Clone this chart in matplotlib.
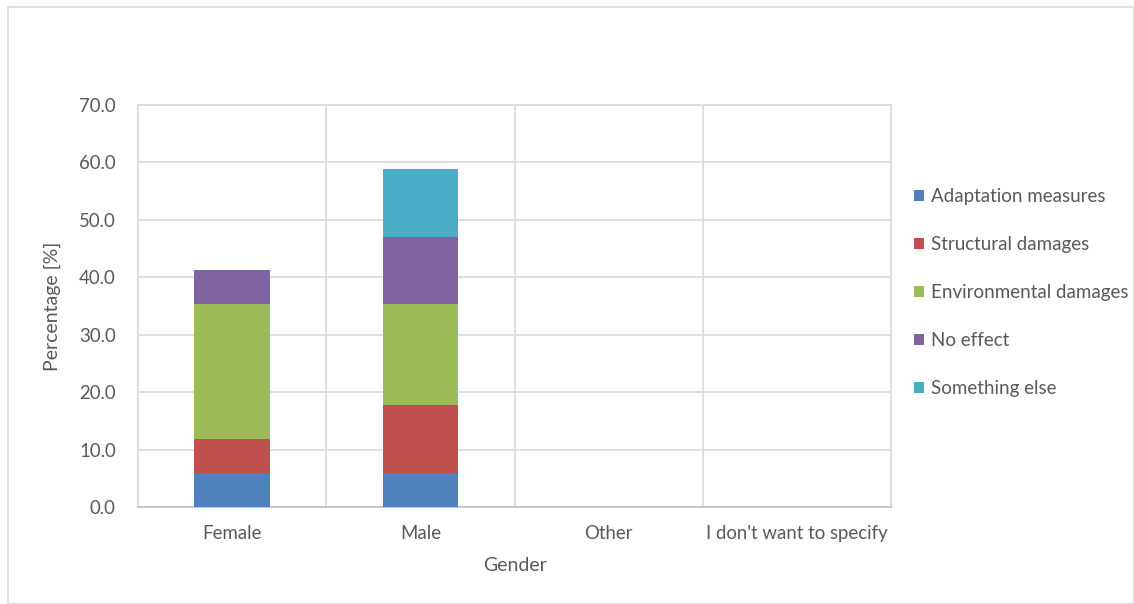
import numpy as np
import matplotlib
matplotlib.use("Agg")
import matplotlib.pyplot as plt
from matplotlib.patches import Rectangle

plt.rcParams['font.family'] = ['Lato', 'DejaVu Sans']

genders = ["Female", "Male", "Other", "I don't want to specify"]
series_names = ["Adaptation measures", "Structural damages", "Environmental damages",
                "No effect", "Something else"]
adaptation = [5.9, 5.9, 0.0, 0.0]
structural = [5.9, 11.8, 0.0, 0.0]
environmental = [23.5, 17.6, 0.0, 0.0]
no_effect = [5.9, 11.8, 0.0, 0.0]
something_else = [0.0, 11.8, 0.0, 0.0]
colors = ["#4f81bd", "#c0504d", "#9bbb59", "#8064a2", "#4bacc6"]

txt = "#595959"
grid = "#d9d9d9"

fig = plt.figure(figsize=(11.34, 6.04), dpi=100)
fig.patches.append(Rectangle((8 / 1134, 0), 1 - 8 / 1134, 1 - 7 / 604, transform=fig.transFigure,
                             fill=False, edgecolor="#d9d9d9", linewidth=1.2))
ax = fig.add_axes([138 / 1134, 1 - 507 / 604, (891 - 138) / 1134, (507 - 105) / 604])

x = np.arange(len(genders))
bottom = np.zeros(len(genders))
for name, vals, c in zip(series_names,
                         [adaptation, structural, environmental, no_effect, something_else],
                         colors):
    vals = np.array(vals)
    ax.bar(x, vals, width=0.4, bottom=bottom, color=c, label=name, zorder=3)
    bottom += vals

ax.set_xlim(-0.5, 3.5)
ax.set_ylim(0, 70)
ax.set_yticks(np.arange(0, 71, 10))
ax.set_yticklabels(["%.1f" % v for v in np.arange(0, 71, 10)])
ax.set_xticks(x)
ax.set_xticklabels(genders)
ax.yaxis.grid(True, color=grid, linewidth=1.2, zorder=0)
for b in [0.5, 1.5, 2.5]:
    ax.axvline(b, color=grid, linewidth=1.2, zorder=0)
for s in ["top", "right"]:
    ax.spines[s].set_color(grid)
    ax.spines[s].set_linewidth(1.2)
ax.spines["left"].set_color(grid)
ax.spines["left"].set_linewidth(1.2)
ax.spines["bottom"].set_color("#bfbfbf")
ax.spines["bottom"].set_linewidth(1.2)
ax.tick_params(length=0, colors=txt, labelsize=13.4)
ax.tick_params(axis="x", pad=13)
ax.tick_params(axis="y", pad=16)

ax.set_xlabel("Gender", color=txt, fontsize=14, labelpad=11)
ax.set_ylabel("Percentage [%]", color=txt, fontsize=14, labelpad=13)

leg = ax.legend(loc="upper left", bbox_to_anchor=(1.02, 0.812), frameon=False,
                fontsize=13.5, handlelength=0.55, handleheight=0.55, handletextpad=0.4,
                labelspacing=1.65, borderaxespad=0)
for t in leg.get_texts():
    t.set_color(txt)

fig.savefig("out.png", dpi=100)
